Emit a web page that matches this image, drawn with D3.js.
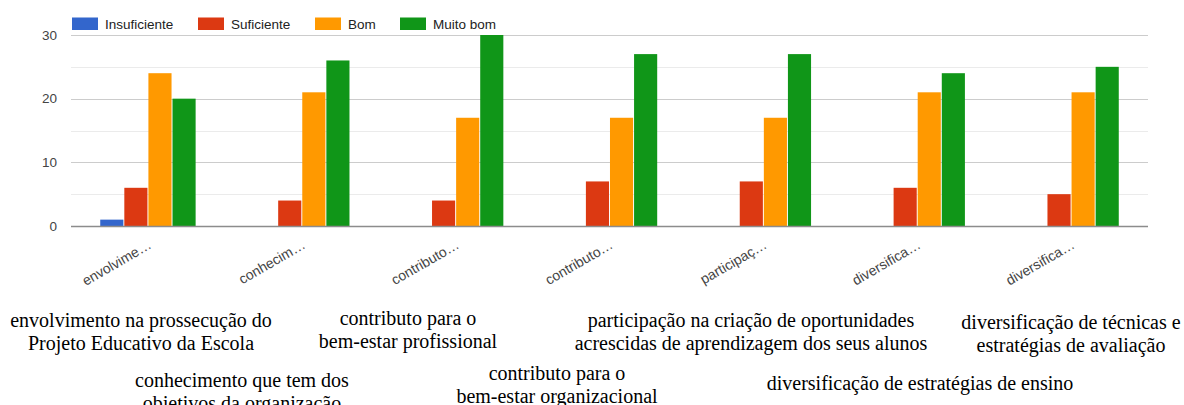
<!DOCTYPE html>
<html>
<head>
<meta charset="utf-8">
<script src="https://cdn.jsdelivr.net/npm/d3@7"></script>
<style>
  body { margin: 0; background: #fff; }
  svg { display: block; }
</style>
</head>
<body>
<div id="chart"></div>
<script>
// data
var categories = ["envolvime…", "conhecim…", "contributo…", "contributo…", "participaç…", "diversifica…", "diversifica…"];
var seriesNames = ["Insuficiente", "Suficiente", "Bom", "Muito bom"];
var seriesColors = ["#3366cc", "#dc3912", "#ff9900", "#109618"];
var insuficiente = [1, 0, 0, 0, 0, 0, 0];
var suficiente = [6, 4, 4, 7, 7, 6, 5];
var bom = [24, 21, 17, 17, 17, 21, 21];
var muitoBom = [20, 26, 30, 27, 27, 24, 25];
var yTicks = [0, 10, 20, 30];
var yMinorTicks = [5, 15, 25];

// full captions under the chart: text lines, centre x, first baseline y
var captions = [
    { lines: ["envolvimento na prossecução do", "Projeto Educativo da Escola"], x: 141, y: 327 },
    { lines: ["contributo para o", "bem-estar profissional"], x: 408, y: 325 },
    { lines: ["participação na criação de oportunidades", "acrescidas de aprendizagem dos seus alunos"], x: 751, y: 327 },
    { lines: ["diversificação de técnicas e", "estratégias de avaliação"], x: 1071, y: 329 },
    { lines: ["conhecimento que tem dos", "objetivos da organização"], x: 242, y: 387 },
    { lines: ["contributo para o", "bem-estar organizacional"], x: 557, y: 380 },
    { lines: ["diversificação de estratégias de ensino"], x: 920, y: 390 }
];

var W = 1184, H = 405;
var margin = { top: 35, left: 71, right: 36, bottom: 179 };
var plotW = W - margin.left - margin.right,
    plotH = H - margin.top - margin.bottom;

var series = [insuficiente, suficiente, bom, muitoBom];

var svg = d3.select("#chart")
    .append("svg")
    .attr("width", W)
    .attr("height", H)
    .style("font-family", "Arial, 'Liberation Sans', sans-serif");

var g = svg.append("g")
    .attr("transform", `translate(${margin.left}, ${margin.top})`);

var x0 = d3.scaleBand()
    .domain(d3.range(categories.length))
    .range([0, plotW])
    .paddingInner(0.38)
    .paddingOuter(0.19);

var x1 = d3.scaleBand()
    .domain(d3.range(seriesNames.length))
    .range([0, x0.bandwidth()])
    .paddingInner(0.04);

var y = d3.scaleLinear()
    .domain([0, 30])
    .range([plotH, 0]);

// gridlines
g.append("g")
    .selectAll("line")
    .data(yMinorTicks)
    .join("line")
    .attr("x1", 0).attr("x2", plotW)
    .attr("y1", d => Math.round(y(d)) + 0.5)
    .attr("y2", d => Math.round(y(d)) + 0.5)
    .attr("stroke", "#ebebeb");

g.append("g")
    .selectAll("line")
    .data(yTicks.filter(d => d > 0))
    .join("line")
    .attr("x1", 0).attr("x2", plotW)
    .attr("y1", d => Math.round(y(d)) + 0.5)
    .attr("y2", d => Math.round(y(d)) + 0.5)
    .attr("stroke", "#cccccc");

// y axis labels
var yAxis = g.append("g")
    .call(d3.axisLeft(y).tickValues(yTicks).tickSize(0).tickPadding(14));
yAxis.select(".domain").remove();
yAxis.selectAll("text")
    .attr("fill", "#444")
    .style("font-size", "13.5px")
    .style("font-family", "Arial, 'Liberation Sans', sans-serif");

// bars
var groups = g.append("g")
    .selectAll("g")
    .data(categories.map((c, i) => i))
    .join("g")
    .attr("transform", i => `translate(${x0(i)}, 0)`);

groups.selectAll("rect")
    .data(i => series.map((s, k) => ({ k: k, v: s[i] })))
    .join("rect")
    .attr("x", d => x1(d.k))
    .attr("width", x1.bandwidth())
    .attr("y", d => y(d.v))
    .attr("height", d => plotH - y(d.v))
    .attr("fill", d => seriesColors[d.k]);

// baseline
g.append("line")
    .attr("x1", 0).attr("x2", plotW)
    .attr("y1", plotH + 0.5).attr("y2", plotH + 0.5)
    .attr("stroke", "#8c8c8c")
    .attr("stroke-width", 1.5);

// x axis labels, slanted
var xAxis = g.append("g")
    .attr("transform", `translate(0, ${plotH})`)
    .call(d3.axisBottom(x0).tickFormat(i => categories[i]).tickSize(0));
xAxis.select(".domain").remove();
xAxis.selectAll("text")
    .attr("fill", "#444")
    .attr("text-anchor", "end")
    .attr("dy", 0)
    .attr("transform", "translate(3, 19) rotate(-30)")
    .style("font-size", "14px")
    .style("font-family", "Arial, 'Liberation Sans', sans-serif");

// legend
var legendX = [72, 198, 315, 400];
var legend = svg.append("g")
    .selectAll("g")
    .data(seriesNames)
    .join("g")
    .attr("transform", (d, i) => `translate(${legendX[i]}, 17.5)`);
legend.append("rect")
    .attr("width", 26).attr("height", 12.5)
    .attr("fill", (d, i) => seriesColors[i]);
legend.append("text")
    .attr("x", 33).attr("y", 11.5)
    .attr("fill", "#222")
    .style("font-size", "13.5px")
    .text(d => d);

// captions under chart
var cap = svg.append("g")
    .selectAll("text")
    .data(captions)
    .join("text")
    .attr("text-anchor", "middle")
    .attr("fill", "#000")
    .style("font-family", "'Liberation Serif', 'Times New Roman', serif")
    .style("font-size", "20px");
cap.selectAll("tspan")
    .data(d => d.lines.map((t, j) => ({ t: t, x: d.x, y: d.y + j * 23 })))
    .join("tspan")
    .attr("x", d => d.x)
    .attr("y", d => d.y)
    .text(d => d.t);
</script>
</body>
</html>
